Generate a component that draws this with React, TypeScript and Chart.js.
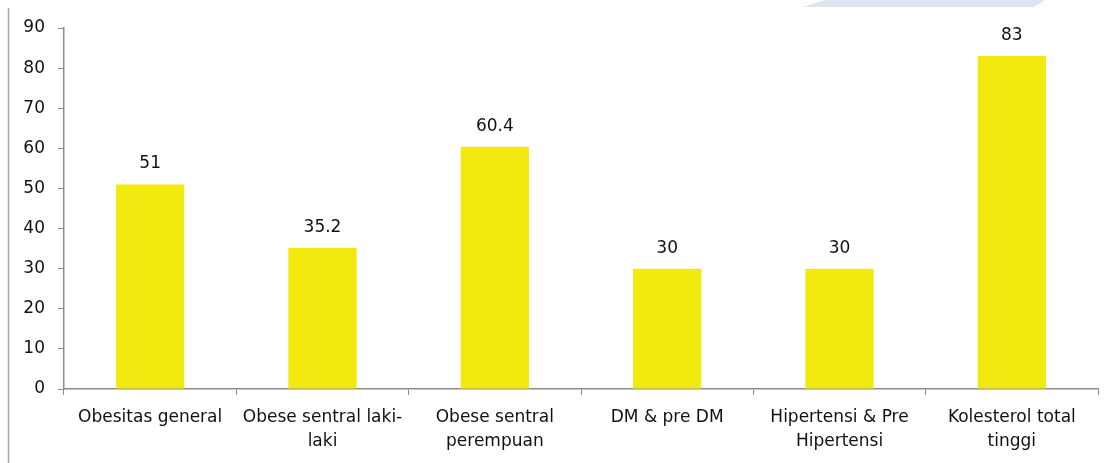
import React, { useEffect, useRef } from "react";
import { Chart, registerables } from "chart.js";

Chart.register(...registerables);

const categories: (string | string[])[] = [
  "Obesitas general",
  ["Obese sentral laki-", "laki"],
  ["Obese sentral", "perempuan"],
  "DM & pre DM",
  ["Hipertensi & Pre", "Hipertensi"],
  ["Kolesterol total", "tinggi"],
];
const values: number[] = [51, 35.2, 60.4, 30, 30, 83];
const valueLabels: string[] = ["51", "35.2", "60.4", "30", "30", "83"];

const FONT = "'DejaVu Sans', Verdana, sans-serif";

const decorPlugin = {
  id: "decor",
  beforeDraw(chart: any) {
    const ctx = chart.ctx;
    ctx.save();
    ctx.strokeStyle = "#a8a8a8";
    ctx.lineWidth = 1.5;
    ctx.beginPath();
    ctx.moveTo(8.5, 8);
    ctx.lineTo(8.5, 463);
    ctx.stroke();
    ctx.fillStyle = "#dce6f2";
    ctx.beginPath();
    ctx.moveTo(825, 0);
    ctx.lineTo(1045, 0);
    ctx.lineTo(1034, 7);
    ctx.lineTo(803, 7);
    ctx.closePath();
    ctx.fill();
    ctx.restore();
  },
  afterDatasetsDraw(chart: any) {
    const ctx = chart.ctx;
    const meta = chart.getDatasetMeta(0);
    ctx.save();
    ctx.fillStyle = "#111";
    ctx.font = `17px ${FONT}`;
    ctx.textAlign = "center";
    ctx.textBaseline = "alphabetic";
    meta.data.forEach((bar: any, i: number) => {
      ctx.fillText(valueLabels[i], bar.x, bar.y - 16);
    });
    ctx.restore();
  },
};

export default function App() {
  const ref = useRef<HTMLCanvasElement>(null);
  useEffect(() => {
    if (!ref.current) return;
    const chart = new Chart(ref.current, {
      type: "bar",
      data: {
        labels: categories,
        datasets: [
          {
            data: values,
            backgroundColor: "#f2e90e",
            borderWidth: 0,
            barPercentage: 0.396,
            categoryPercentage: 1,
          },
        ],
      },
      options: {
        animation: false,
        responsive: false,
        maintainAspectRatio: false,
        layout: { padding: { top: 28, right: 11, left: 0, bottom: 0 } },
        plugins: { legend: { display: false }, tooltip: { enabled: false } },
        scales: {
          x: {
            grid: {
              display: true,
              drawOnChartArea: false,
              drawTicks: true,
              tickLength: 6,
              color: "#8c8c8c",
              offset: true,
            },
            border: { color: "#8c8c8c", width: 1.5 },
            ticks: {
              color: "#111",
              font: { family: FONT, size: 17, lineHeight: 1.45 },
              maxRotation: 0,
              autoSkip: false,
              padding: 10,
            },
            afterFit(scale: any) {
              scale.height = 74;
            },
          },
          y: {
            min: 0,
            max: 90,
            grid: {
              display: true,
              drawOnChartArea: false,
              drawTicks: true,
              tickLength: 6,
              color: "#8c8c8c",
            },
            border: { color: "#8c8c8c", width: 1.5 },
            ticks: {
              stepSize: 10,
              color: "#111",
              font: { family: FONT, size: 17 },
              padding: 13,
            },
            afterFit(scale: any) {
              scale.width = 64;
            },
          },
        },
      },
      plugins: [decorPlugin],
    });
    return () => chart.destroy();
  }, []);
  return (
    <div style={{ position: "fixed", left: 0, top: 0, width: 1109, height: 463, background: "#fff" }}>
      <canvas ref={ref} width={1109} height={463} />
    </div>
  );
}
